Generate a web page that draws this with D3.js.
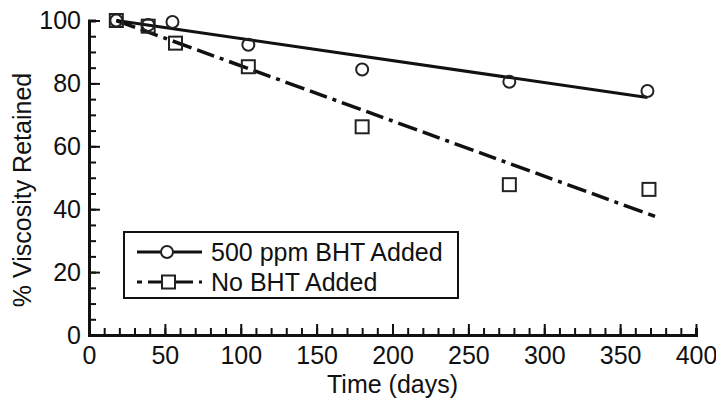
<!DOCTYPE html>
<html>
<head>
<meta charset="utf-8">
<script src="https://cdn.jsdelivr.net/npm/d3@7"></script>
<style>
  body { margin: 0; background: #fff; }
  svg text { font-family: "Liberation Sans", Arial, Helvetica, sans-serif; fill: #111; }
</style>
</head>
<body>
<svg class="graph" width="716" height="401"></svg>
<script>
// measured points (days, % retained)
const bhtDays = [18, 39, 55, 105, 180, 277, 368];
const bhtValues = [100, 98.6, 99.5, 92.3, 84.4, 80.5, 77.6];
const noBhtDays = [18, 39, 57, 105, 180, 277, 369];
const noBhtValues = [100, 98.2, 92.8, 85.3, 66.2, 47.8, 46.3];

// linear fits drawn through the points
const bhtFitDays = [18, 368];
const bhtFitValues = [100, 75.5];
const noBhtFitDays = [18, 373];
const noBhtFitValues = [100, 37.7];

const xTicks = [0, 50, 100, 150, 200, 250, 300, 350, 400];
const yTicks = [0, 20, 40, 60, 80, 100];
const legendLabels = ["500 ppm BHT Added", "No BHT Added"];

const width = 716;
const height = 401;
const margin = { left: 89, right: 20, top: 20.5, bottom: 66 };
const dashDot = "20,6,18,6,4,6";

const svg = d3.select("svg.graph");

const xScale = d3
  .scaleLinear()
  .domain([0, 400])
  .range([margin.left, width - margin.right]);

const yScale = d3
  .scaleLinear()
  .domain([0, 100])
  .range([height - margin.bottom, margin.top]);

// minor ticks first, then the labelled ones on top
const xMinor = d3.axisBottom(xScale).ticks(40).tickSize(-7).tickFormat("");
const yMinor = d3.axisLeft(yScale).ticks(20).tickSize(-7).tickFormat("");
const xAxis = d3.axisBottom(xScale).tickValues(xTicks).tickSize(-11).tickPadding(16).tickSizeOuter(0);
const yAxis = d3.axisLeft(yScale).tickValues(yTicks).tickSize(-11).tickPadding(9).tickSizeOuter(0);

svg.append("g")
  .attr("transform", `translate(0, ${yScale(0)})`)
  .call(xMinor);
svg.append("g")
  .attr("transform", `translate(${xScale(0)}, 0)`)
  .call(yMinor);

const gx = svg.append("g")
  .classed("xAxis", true)
  .attr("transform", `translate(0, ${yScale(0)})`)
  .call(xAxis);
const gy = svg.append("g")
  .classed("yAxis", true)
  .attr("transform", `translate(${xScale(0)}, 0)`)
  .call(yAxis);

svg.selectAll(".tick line").attr("stroke", "#111").attr("stroke-width", 2);
svg.selectAll(".domain").attr("stroke", "#111").attr("stroke-width", 3);
svg.selectAll(".xAxis text, .yAxis text")
  .attr("font-size", 25)
  .attr("font-family", "Liberation Sans, Arial, sans-serif")
  .attr("fill", "#111");
gx.selectAll("text").attr("dy", "0.71em").attr("y", 11);
gy.selectAll("text").attr("x", -8);

// axis labels
svg.append("text")
  .attr("x", (xScale(0) + xScale(400)) / 2)
  .attr("y", 393)
  .attr("text-anchor", "middle")
  .attr("font-size", 25)
  .text("Time (days)");

svg.append("text")
  .attr("transform", `translate(31, 190) rotate(-90)`)
  .attr("text-anchor", "middle")
  .attr("font-size", 25)
  .text("% Viscosity Retained");

const line = d3.line()
  .x((d) => xScale(d[0]))
  .y((d) => yScale(d[1]));

// fit lines
svg.append("path")
  .datum(d3.zip(bhtFitDays, bhtFitValues))
  .attr("fill", "none")
  .attr("stroke", "#111")
  .attr("stroke-width", 3)
  .attr("d", line);

svg.append("path")
  .datum(d3.zip(noBhtFitDays, noBhtFitValues))
  .attr("fill", "none")
  .attr("stroke", "#111")
  .attr("stroke-width", 3.5)
  .attr("stroke-dasharray", dashDot)
  .attr("d", line);

// markers
svg.append("g")
  .selectAll("circle")
  .data(d3.zip(bhtDays, bhtValues))
  .enter()
  .append("circle")
  .attr("cx", (d) => xScale(d[0]))
  .attr("cy", (d) => yScale(d[1]))
  .attr("r", 6)
  .attr("fill", "none")
  .attr("stroke", "#222")
  .attr("stroke-width", 2);

svg.append("g")
  .selectAll("rect")
  .data(d3.zip(noBhtDays, noBhtValues))
  .enter()
  .append("rect")
  .attr("x", (d) => xScale(d[0]) - 6.5)
  .attr("y", (d) => yScale(d[1]) - 6.5)
  .attr("width", 13)
  .attr("height", 13)
  .attr("fill", "none")
  .attr("stroke", "#222")
  .attr("stroke-width", 2);

// legend
const legend = svg.append("g").attr("transform", "translate(124, 232)");
legend.append("rect")
  .attr("width", 334)
  .attr("height", 66)
  .attr("fill", "#fff")
  .attr("stroke", "#111")
  .attr("stroke-width", 2);

const rows = legend.selectAll("g.row")
  .data(legendLabels)
  .enter()
  .append("g")
  .classed("row", true)
  .attr("transform", (d, i) => `translate(0, ${20 + i * 30})`);

rows.append("line")
  .attr("x1", 13)
  .attr("x2", 78)
  .attr("stroke", "#111")
  .attr("stroke-width", 3)
  .attr("stroke-dasharray", (d, i) => (i === 0 ? null : "5,6,45,6,3,100"));

rows.filter((d, i) => i === 0)
  .append("circle")
  .attr("cx", 43)
  .attr("r", 6)
  .attr("fill", "#fff")
  .attr("stroke", "#222")
  .attr("stroke-width", 2);

rows.filter((d, i) => i === 1)
  .append("rect")
  .attr("x", 38)
  .attr("y", -6.5)
  .attr("width", 13)
  .attr("height", 13)
  .attr("fill", "#fff")
  .attr("stroke", "#222")
  .attr("stroke-width", 2);

rows.append("text")
  .attr("x", 87)
  .attr("dy", "0.35em")
  .attr("font-size", 25)
  .text((d) => d);
</script>
</body>
</html>
